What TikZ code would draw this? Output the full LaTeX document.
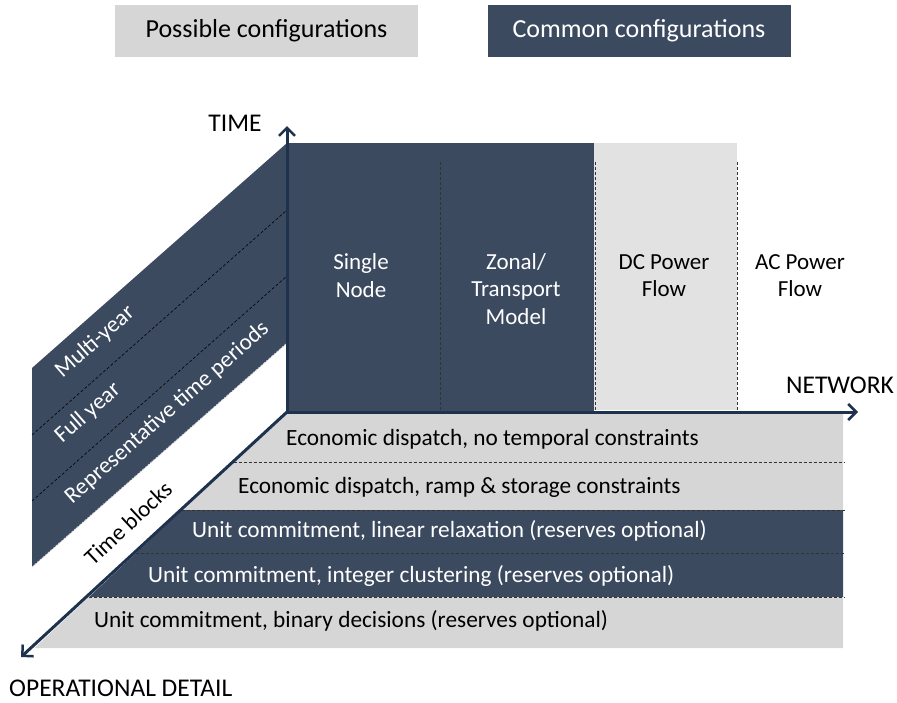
\documentclass[tikz,border=0pt]{standalone}
\usepackage{fontspec}
\setmainfont{Carlito}
\usetikzlibrary{arrows.meta}
\definecolor{darkfill}{RGB}{60,74,96}
\definecolor{navy}{RGB}{30,50,78}
\definecolor{lgray}{RGB}{214,214,214}
\definecolor{vlgray}{RGB}{226,226,226}
\begin{document}
\begin{tikzpicture}[x=1pt,y=-1pt,
  legendbox/.style={minimum width=303pt,minimum height=52pt,inner sep=0pt,font=\fontsize{26}{31}\selectfont},
  rowtext/.style={anchor=west,inner sep=0pt,font=\fontsize{23.3}{27.5}\selectfont},
  celltext/.style={align=center,inner sep=0pt,font=\fontsize{23}{27.5}\selectfont},
  slanttext/.style={inner sep=0pt,text=white,rotate=41.3,font=\fontsize{23}{27.5}\selectfont},
  axislabel/.style={inner sep=0pt,font=\fontsize{25.5}{30}\selectfont},
  divider/.style={line width=0.6pt,black!80,dash pattern=on 3pt off 2pt},
  axisline/.style={line width=3pt,navy,-{Straight Barb[length=8pt,width=16pt,line width=2.5pt]}}]
\useasboundingbox (0,0) rectangle (897,702);

% legend
\node[legendbox,fill=lgray] (possible) at (266.5,31) {Possible configurations};
\node[legendbox,fill=darkfill,text=white] (common) at (639,31) {Common configurations};

% key coordinates
\coordinate (O) at (287,412);
\coordinate (Ttip) at (287,126);
\coordinate (Ntip) at (858,412);
\coordinate (Dtip) at (21,657);

% top panel (network)
\fill[darkfill] (287,143) rectangle (594,412);
\fill[vlgray] (594,143) rectangle (737,410);
\draw[divider] (440,162) -- (440,412);
\draw[divider] (595,162) -- (595,412);
\draw[divider] (737,162) -- (737,412);
\node[celltext,text=white] (single) at (361,275.5) {Single\\Node};
\node[celltext,text=white] (zonal) at (516,289) {Zonal/\\Transport\\Model};
\node[celltext] (dc) at (664,275.5) {DC Power\\Flow};
\node[celltext] (ac) at (800,275.5) {AC Power\\Flow};

% left slanted panel (time)
\fill[darkfill] (32,368) -- (287,143) -- (287,343) -- (32,567) -- cycle;
\draw[divider,black] (32,435) -- (287,210);
\draw[divider,black] (32,501) -- (287,276);
\draw[line width=0.8pt,white!75!darkfill,dash pattern=on 2pt off 1.5pt] (32,567) -- (287,343);
\node[slanttext] (multi) at (95,342) {Multi-year};
\node[slanttext] (full) at (88,413) {Full year};
\node[slanttext] (rep) at (167,413) {Representative time periods};
\node[inner sep=0pt,rotate=43,font=\fontsize{23}{27.5}\selectfont] (blocks) at (128,523) {Time blocks};

% bottom panel (operational detail)
\fill[lgray] (287,412) -- (843,412) -- (843,462) -- (233.5,462) -- cycle;
\fill[lgray] (233.5,462) -- (843,462) -- (843,510) -- (182.1,510) -- cycle;
\fill[darkfill] (182.1,510) -- (843,510) -- (843,553) -- (136.1,553) -- cycle;
\fill[darkfill] (136.1,553) -- (843,553) -- (843,597) -- (89,597) -- cycle;
\fill[lgray] (89,597) -- (843,597) -- (843,648) -- (34.5,648) -- cycle;
\draw[divider] (233.5,462) -- (845,462);
\draw[divider] (182.1,510) -- (845,510);
\draw[divider] (136.1,553) -- (845,553);
\draw[divider] (89,597) -- (845,597);
\node[rowtext] (r1) at (286,439) {Economic dispatch, no temporal constraints};
\node[rowtext] (r2) at (238,487) {Economic dispatch, ramp \& storage constraints};
\node[rowtext,text=white] (r3) at (192,531) {Unit commitment, linear relaxation (reserves optional)};
\node[rowtext,text=white] (r4) at (148,576) {Unit commitment, integer clustering (reserves optional)};
\node[rowtext] (r5) at (94,621) {Unit commitment, binary decisions (reserves optional)};

% axes
\draw[axisline] (O) -- (Ttip);
\draw[axisline] (O) -- (Ntip);
\draw[axisline] (O) -- (Dtip);
\node[axislabel] (timelabel) at (235,123) {TIME};
\node[axislabel] (netlabel) at (840,385) {NETWORK};
\node[axislabel,anchor=west] (oplabel) at (9,688) {OPERATIONAL DETAIL};
\end{tikzpicture}
\end{document}
